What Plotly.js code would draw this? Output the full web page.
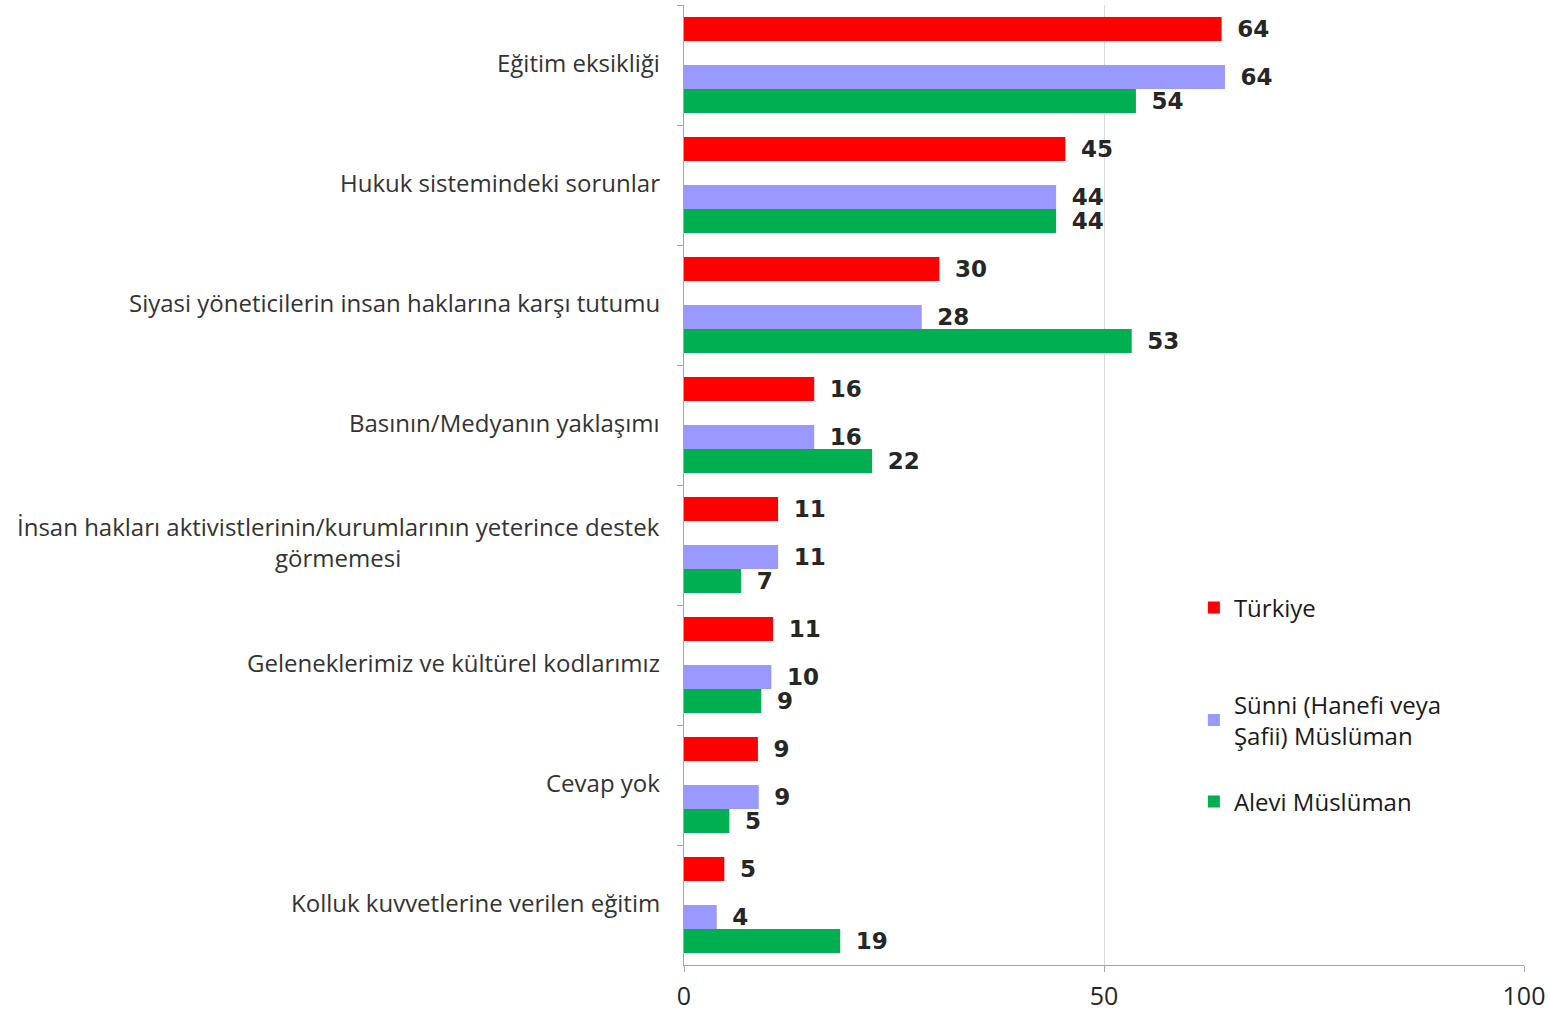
<!DOCTYPE html>
<html>
<head>
<meta charset="utf-8">
<script src="https://cdn.plot.ly/plotly-3.0.1.min.js"></script>
<style>html,body{margin:0;padding:0;background:#fff;}#chart{width:1550px;height:1011px;}</style>
</head>
<body>
<div id="chart"></div>
<script>
const categories = [
  "Eğitim eksikliği",
  "Hukuk sistemindeki sorunlar",
  "Siyasi yöneticilerin insan haklarına karşı tutumu",
  "Basının/Medyanın yaklaşımı",
  "İnsan hakları aktivistlerinin/kurumlarının yeterince destek<br>görmemesi",
  "Geleneklerimiz ve kültürel kodlarımız",
  "Cevap yok",
  "Kolluk kuvvetlerine verilen eğitim"
];
const turkiye = [64.0, 45.4, 30.4, 15.5, 11.2, 10.6, 8.8, 4.8];
const sunni   = [64.4, 44.3, 28.3, 15.5, 11.2, 10.4, 8.9, 3.9];
const alevi   = [53.8, 44.3, 53.3, 22.4, 6.8, 9.2, 5.4, 18.6];
const seriesNames = ["Türkiye", "Sünni (Hanefi veya<br>Şafii) Müslüman", "Alevi Müslüman"];
const colors = ["#FF0000", "#9999FF", "#00B050"];
const xTicks = [0, 50, 100];

const labelFont = {family: "DejaVu Sans", size: 23, color: "#262626", weight: "bold"};
const txtFont = {family: "Open Sans", size: 24, color: "#333333"};

function barTrace(vals, name, color, legendId) {
  return {
    type: "bar", orientation: "h", y: categories, x: vals, name: name,
    marker: {color: color},
    text: vals.map(v => Math.round(v)),
    texttemplate: "\u00a0\u2009%{text}",
    textposition: "outside", constraintext: "none", cliponaxis: false,
    textfont: labelFont,
    legend: legendId,
    hoverinfo: "x+y"
  };
}
const spacer = {
  type: "bar", orientation: "h", y: categories, x: categories.map(() => 0),
  marker: {color: "rgba(0,0,0,0)"}, showlegend: false, hoverinfo: "skip"
};

const data = [
  barTrace(turkiye, seriesNames[0], colors[0], "legend"),
  spacer,
  barTrace(sunni, seriesNames[1], colors[1], "legend2"),
  barTrace(alevi, seriesNames[2], colors[2], "legend3")
];

const annotations = categories.map(c => ({
  xref: "paper", yref: "y", x: 0, y: c, text: c,
  xanchor: "right", yanchor: "middle", align: "center",
  xshift: -22, yshift: 3, showarrow: false, font: txtFont
}));

const legendBase = {
  xref: "paper", yref: "paper", xanchor: "left", yanchor: "middle",
  font: {family: "Open Sans", size: 24, color: "#1a1a1a"},
  bgcolor: "rgba(0,0,0,0)", itemclick: false, itemdoubleclick: false
};

const layout = {
  width: 1550, height: 1011,
  margin: {l: 684, r: 26, t: 5, b: 46},
  paper_bgcolor: "#ffffff", plot_bgcolor: "#ffffff",
  barmode: "group", bargap: 0.2, bargroupgap: 0,
  xaxis: {
    range: [0, 100], tickvals: xTicks, ticktext: xTicks.map(String),
    showgrid: true, gridcolor: "#d9d9d9", gridwidth: 1,
    zeroline: false, showline: true, linecolor: "#a6a6a6", linewidth: 1,
    ticks: "outside", ticklen: 6, tickcolor: "#a6a6a6", ticklabelstandoff: 3,
    tickfont: {family: "Open Sans", size: 25, color: "#262626"}
  },
  yaxis: {
    autorange: "reversed", showticklabels: false,
    showline: true, linecolor: "#a6a6a6", linewidth: 1,
    ticks: "outside", ticklen: 6, tickcolor: "#a6a6a6", tickson: "boundaries",
    showgrid: false, zeroline: false
  },
  showlegend: true,
  legend: Object.assign({}, legendBase, {x: 0.607, y: 0.372}),
  legend2: Object.assign({}, legendBase, {x: 0.607, y: 0.255}),
  legend3: Object.assign({}, legendBase, {x: 0.607, y: 0.170}),
  annotations: annotations
};

Plotly.newPlot("chart", data, layout, {displayModeBar: false, staticPlot: true});
</script>
</body>
</html>
